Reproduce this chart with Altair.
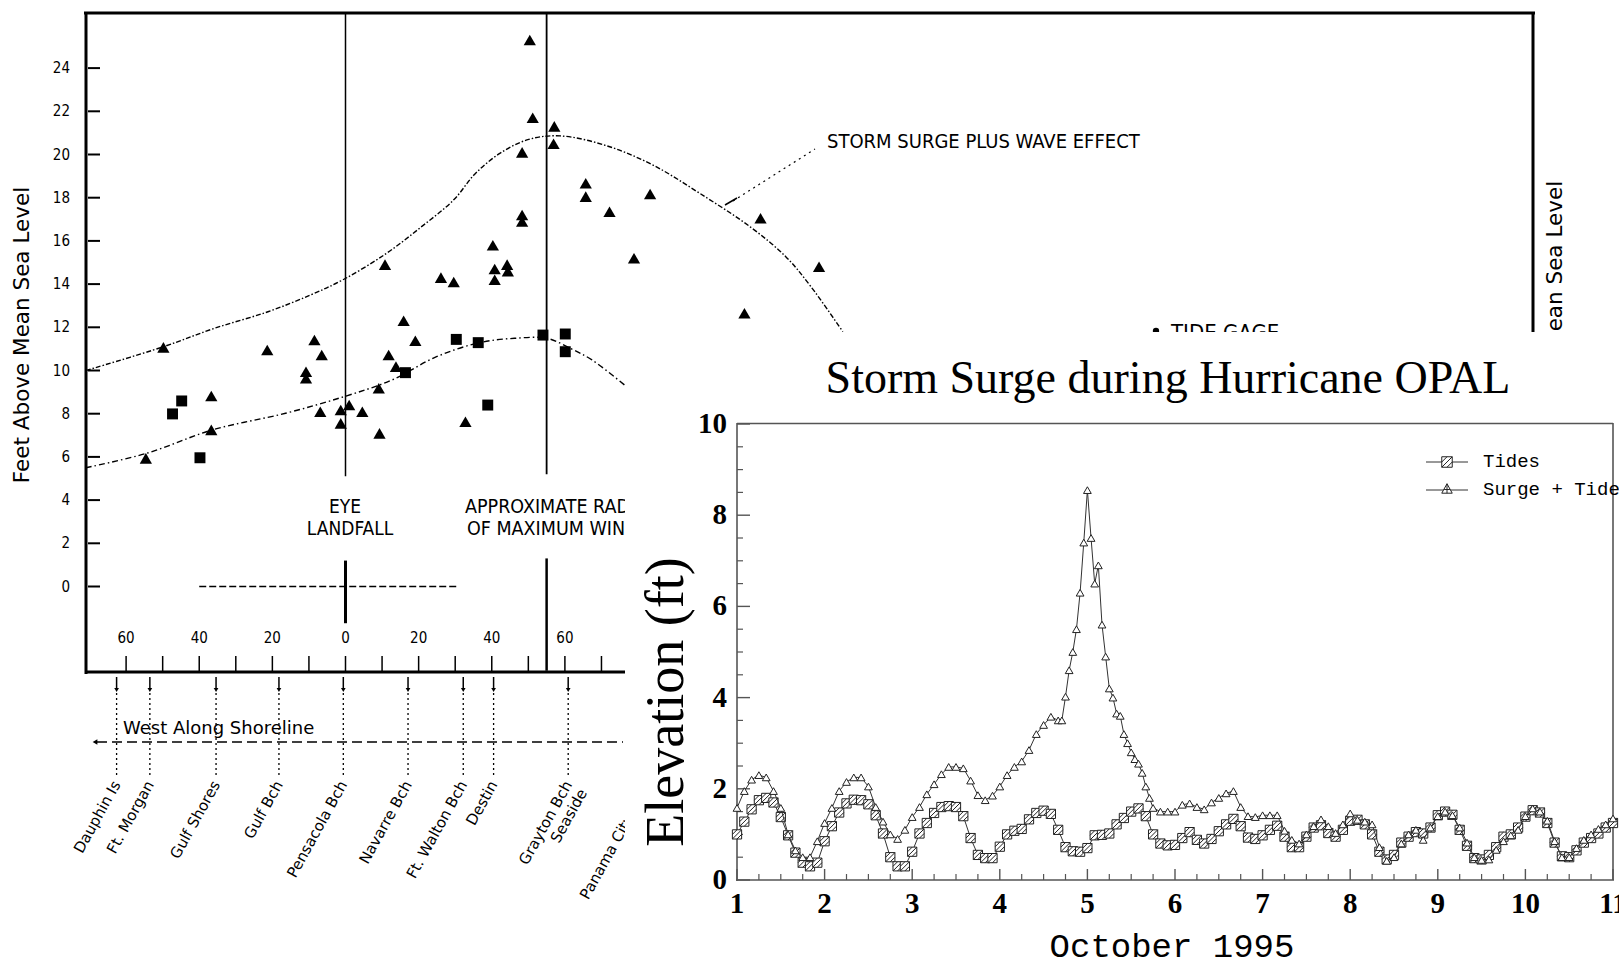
import altair as alt
import pandas as pd
import numpy as np

W, H = 1619, 968

# ---------------- left chart: surge along the shoreline (miles from landfall, feet) ----------------
tri_miles = [-54.6, -49.8, -36.7, -36.7, -21.4, -10.8, -10.8, -8.5, -6.5, -6.9,
             -1.3, -1.3, 1.0, 4.6, 9.1, 9.3, 10.8, 11.8, 13.8, 15.9, 19.1, 26.1,
             29.6, 32.8, 40.3, 40.8, 40.8, 44.2, 44.4, 48.3, 48.3, 48.3, 50.4,
             51.2, 56.9, 57.1, 65.7, 65.7, 72.2, 78.9, 83.3, 109.1, 113.5, 129.5]
tri_feet = [5.93, 11.07, 8.82, 7.25, 10.95, 9.94, 9.64, 11.41, 10.72, 8.09,
            8.17, 7.55, 8.4, 8.09, 9.18, 7.09, 14.9, 10.72, 10.18, 12.3, 11.38, 14.3,
            14.1, 7.63, 15.8, 14.7, 14.2, 14.9, 14.6, 20.1, 17.2, 16.9, 25.3,
            21.7, 20.5, 21.3, 18.67, 18.05, 17.35, 15.2, 18.17, 12.65, 17.05, 14.8]
sq_miles = [-47.3, -44.8, -39.8, 16.4, 30.3, 36.3, 38.9, 54.0, 60.1, 60.1]
sq_feet = [7.99, 8.59, 5.96, 9.9, 11.44, 11.29, 8.4, 11.64, 11.69, 10.87]
wave_miles = [-71.0, -49.8, -35.9, -21.2, -9.5, -0.7, 11.0, 20.8, 29.6, 35.4, 42.2,
              50.1, 58.8, 71.5, 84.2, 96.9, 110.6, 120.4, 127.2, 136.0]
wave_feet = [10.0, 11.1, 11.95, 12.72, 13.5, 14.2, 15.4, 16.66, 17.9, 19.1, 20.05,
             20.7, 20.86, 20.4, 19.5, 18.2, 16.66, 15.27, 13.9, 11.8]
surge_miles = [-71.0, -54.3, -36.4, -16.4, -0.4, 12.7, 24.9, 36.7, 46.2, 55.1, 61.8, 67.4, 76.3]
surge_feet = [5.5, 6.17, 7.25, 8.02, 8.79, 9.56, 10.64, 11.29, 11.49, 11.49, 11.0, 10.49, 9.33]
left_y_ticks = [0, 2, 4, 6, 8, 10, 12, 14, 16, 18, 20, 22, 24]
left_x_labels = [-60, -40, -20, 0, 20, 40, 60]
left_x_minor = [-60, -50, -40, -30, -20, -10, 0, 10, 20, 30, 40, 50, 60, 70]
loc_names = ["Dauphin Is", "Ft. Morgan", "Gulf Shores", "Gulf Bch", "Pensacola Bch",
             "Navarre Bch", "Ft. Walton Bch", "Destin", "Grayton Bch\nSeaside"]
loc_miles = [-62.6, -53.5, -35.4, -18.2, -0.6, 17.1, 32.2, 40.5, 60.9]
marker_lines_miles = [0, 0, 55, 55]
marker_lines_top = [26.5, 1.2, 26.5, 1.3]
marker_lines_bot = [5.1, -1.7, 5.2, -3.9]
marker_lines_w = [1.5, 3.0, 1.8, 2.5]

# ---------------- inset: Storm surge during Hurricane OPAL (October 1995) ----------------
tides = [1.0, 1.28, 1.55, 1.75, 1.8, 1.7, 1.38, 0.98, 0.6, 0.38, 0.3, 0.38,
         0.85, 1.18, 1.48, 1.68, 1.76, 1.75, 1.66, 1.42, 1.02, 0.5, 0.3, 0.3,
         0.62, 1.02, 1.25, 1.47, 1.6, 1.62, 1.6, 1.4, 0.92, 0.55, 0.48, 0.48,
         0.73, 1.0, 1.08, 1.12, 1.33, 1.47, 1.52, 1.45, 1.1, 0.72, 0.63, 0.62,
         0.7, 0.98, 0.99, 1.02, 1.22, 1.36, 1.5, 1.57, 1.4, 1.0, 0.8, 0.76,
         0.77, 0.92, 1.05, 0.88, 0.8, 0.9, 1.07, 1.22, 1.34, 1.18, 0.93, 0.9,
         0.98, 1.1, 1.19, 0.95, 0.72, 0.72, 0.95, 1.15, 1.2, 1.03, 0.95, 1.1,
         1.3, 1.32, 1.22, 1.0, 0.62, 0.45, 0.55, 0.82, 0.95, 1.05, 1.02, 1.15,
         1.42, 1.5, 1.43, 1.1, 0.75, 0.48, 0.45, 0.55, 0.72, 0.95, 1.0, 1.15,
         1.39, 1.53, 1.48, 1.25, 0.82, 0.52, 0.5, 0.65, 0.82, 0.92, 1.02, 1.15, 1.25]
surge_before = [1.58, 1.95, 2.2, 2.3, 2.25, 1.95, 1.58, 1.0, 0.65, 0.5, 0.5, 0.85,
                1.25, 1.58, 1.95, 2.15, 2.25, 2.25, 2.05, 1.6, 1.28, 1.0, 0.9, 1.1,
                1.38, 1.6, 1.88, 2.1, 2.32, 2.48, 2.48, 2.45, 2.18, 1.86, 1.75, 1.85,
                2.05, 2.3, 2.48, 2.6, 2.85, 3.2, 3.4, 3.58, 3.5]
surge_peak = [3.5, 4.02, 4.6, 5.0, 5.5, 6.3, 7.4, 8.55, 7.5, 6.5, 6.9, 5.6, 4.9,
              4.2, 4.0, 3.65, 3.6, 3.2, 3.0, 2.8, 2.65, 2.55, 2.35, 2.05, 1.8, 1.58]
surge_after = [1.5, 1.5, 1.5, 1.65, 1.68, 1.6, 1.55, 1.7, 1.8, 1.9, 1.95, 1.6, 1.4,
               1.38, 1.42, 1.42, 1.42, 1.08, 0.88, 0.8, 1.0, 1.18, 1.33, 1.18, 1.03,
               1.22, 1.46, 1.32, 1.28, 1.22, 0.72, 0.42, 0.5, 0.8, 1.0, 1.1, 0.88,
               1.15, 1.4, 1.5, 1.42, 1.15, 0.82, 0.5, 0.44, 0.45, 0.66, 0.85, 0.98,
               1.1, 1.4, 1.57, 1.5, 1.3, 0.85, 0.5, 0.5, 0.7, 0.88, 1.0, 1.12, 1.22, 1.35]
inset_x_ticks = [1, 2, 3, 4, 5, 6, 7, 8, 9, 10, 11]
inset_y_ticks = [0, 2, 4, 6, 8, 10]

# sampling times (days of October): 2-hourly, hourly around the peak
tide_days = [1 + k / 12 for k in range(len(tides))]
surge_days = ([1 + k / 12 for k in range(len(surge_before))]
              + [1 + 89 / 24 + k / 24 for k in range(len(surge_peak))]
              + [1 + 58 / 12 + k / 12 for k in range(len(surge_after))])
surge_vals = surge_before + surge_peak + surge_after

# ---------------- scales ----------------
LX = alt.Scale(domain=[-60, 60], range=[126.1, 564.9], nice=False, zero=False)
LY = alt.Scale(domain=[0, 24], range=[586.5, 68.1], nice=False, zero=False)
IX = alt.Scale(domain=[1, 11], range=[737, 1613], nice=False, zero=False)
IY = alt.Scale(domain=[0, 10], range=[880, 424], nice=False, zero=False)


def lx(f):
    return alt.X(f, scale=LX, axis=None)


def ly(f):
    return alt.Y(f, scale=LY, axis=None)


def ix(f):
    return alt.X(f, scale=IX, axis=None)


def iy(f):
    return alt.Y(f, scale=IY, axis=None)


def one():
    return alt.Chart(pd.DataFrame({"k": [0]}))


def hline(x1, x2, y, color="black", w=1.0, dash=None):
    kw = dict(color=color, strokeWidth=w)
    if dash:
        kw["strokeDash"] = dash
    return one().mark_rule(**kw).encode(x=alt.value(x1), x2=alt.value(x2), y=alt.value(y))


def vline(x, y1, y2, color="black", w=1.0):
    return one().mark_rule(color=color, strokeWidth=w).encode(x=alt.value(x), y=alt.value(y1), y2=alt.value(y2))


def label(txt, x, y, size, font="DejaVu Sans", align="center", baseline="middle", angle=0,
          weight="normal", color="black"):
    kw = dict(text=txt, fontSize=size, font=font, align=align, baseline=baseline,
              fontWeight=weight, color=color)
    if angle:
        kw["angle"] = angle
    return one().mark_text(**kw).encode(x=alt.value(x), y=alt.value(y))


SANS_C = "DejaVu Sans Condensed"
layers = []

# frame of the left chart
layers += [hline(84, 1535, 13, w=3), vline(86, 12, 674, w=3), hline(85, 625, 672, w=3),
           vline(1533, 12, 334, w=3)]

# y ticks + labels
dyt = pd.DataFrame({"ft": left_y_ticks, "lab": [str(v) for v in left_y_ticks]})
layers.append(alt.Chart(dyt).mark_rule(color="black", strokeWidth=2).encode(
    x=alt.value(88), x2=alt.value(100), y=ly("ft:Q")))
layers.append(alt.Chart(dyt).mark_text(align="right", baseline="middle", font=SANS_C, fontSize=15).encode(
    x=alt.value(70), y=ly("ft:Q"), text="lab:N"))

# x ticks + labels
dxm = pd.DataFrame({"m": left_x_minor})
layers.append(alt.Chart(dxm).mark_rule(color="black", strokeWidth=1.5).encode(
    x=lx("m:Q"), y=alt.value(656), y2=alt.value(671)))
dxl = pd.DataFrame({"m": left_x_labels, "lab": [str(abs(v)) for v in left_x_labels]})
layers.append(alt.Chart(dxl).mark_text(baseline="middle", font=SANS_C, fontSize=15).encode(
    x=lx("m:Q"), y=alt.value(638), text="lab:N"))

# zero line
dz = pd.DataFrame({"a": [-40], "b": [31], "ft": [0]})
layers.append(alt.Chart(dz).mark_rule(color="black", strokeWidth=1.3, strokeDash=[7, 3]).encode(
    x=lx("a:Q"), x2=alt.X2("b:Q"), y=ly("ft:Q")))

# eye landfall / radius of maximum winds lines
dseg = pd.DataFrame({"m": marker_lines_miles, "top": marker_lines_top,
                     "bot": marker_lines_bot, "w": marker_lines_w})
layers.append(alt.Chart(dseg).mark_rule(color="black").encode(
    x=lx("m:Q"), y=ly("top:Q"), y2=alt.Y2("bot:Q"),
    strokeWidth=alt.StrokeWidth("w:Q", scale=None, legend=None)))

# envelope curves
dwave = pd.DataFrame({"m": wave_miles, "ft": wave_feet})
layers.append(alt.Chart(dwave).mark_line(color="black", strokeWidth=1.4, strokeDash=[5, 2, 1.5, 2],
                                         interpolate="catmull-rom").encode(x=lx("m:Q"), y=ly("ft:Q")))
dsurge = pd.DataFrame({"m": surge_miles, "ft": surge_feet})
layers.append(alt.Chart(dsurge).mark_line(color="black", strokeWidth=1.4, strokeDash=[6, 3, 1.5, 3],
                                          interpolate="catmull-rom").encode(x=lx("m:Q"), y=ly("ft:Q")))

# observations
dtri = pd.DataFrame({"m": tri_miles, "ft": tri_feet})
layers.append(alt.Chart(dtri).mark_point(shape="triangle-up", filled=True, color="black", size=150,
                                         opacity=1).encode(x=lx("m:Q"), y=ly("ft:Q")))
dsq = pd.DataFrame({"m": sq_miles, "ft": sq_feet})
layers.append(alt.Chart(dsq).mark_point(shape="square", filled=True, color="black", size=120,
                                        opacity=1).encode(x=lx("m:Q"), y=ly("ft:Q")))

# annotations
layers += [
    label("STORM SURGE PLUS WAVE EFFECT", 827, 142, 20, font=SANS_C, align="left"),
    one().mark_rule(color="black", strokeWidth=1.2, strokeDash=[2, 4]).encode(
        x=alt.value(733), y=alt.value(201), x2=alt.value(815), y2=alt.value(149)),
    one().mark_rule(color="black", strokeWidth=1.5).encode(
        x=alt.value(725), y=alt.value(205), x2=alt.value(737), y2=alt.value(198)),
    label("EYE", 345, 507, 19, font=SANS_C),
    label("LANDFALL", 350, 529, 19, font=SANS_C),
    label("APPROXIMATE RADIUS", 465, 507, 19.5, font=SANS_C, align="left"),
    label("OF MAXIMUM WINDS", 467, 529, 19.5, font=SANS_C, align="left"),
    one().mark_point(shape="circle", filled=True, color="black", size=40, opacity=1).encode(
        x=alt.value(1156), y=alt.value(331)),
    label("TIDE GAGE", 1171, 340, 22, font=SANS_C, align="left", baseline="alphabetic"),
    label("Feet Above Mean Sea Level", 23, 335, 21.5, angle=270),
    label("Feet Above Mean Sea Level", 1556, 329, 21.5, angle=270),
]

# locations along the shoreline
dloc = pd.DataFrame({"m": loc_miles, "name": loc_names})
layers.append(alt.Chart(dloc).mark_rule(color="black", strokeWidth=1.5).encode(
    x=lx("m:Q"), y=alt.value(677), y2=alt.value(689)))
layers.append(alt.Chart(dloc).mark_point(shape="triangle-down", filled=True, color="black", size=22,
                                         opacity=1).encode(x=lx("m:Q"), y=alt.value(690)))
layers.append(alt.Chart(dloc).mark_rule(color="black", strokeWidth=1.3, strokeDash=[2, 3]).encode(
    x=lx("m:Q"), y=alt.value(693), y2=alt.value(776)))
layers.append(alt.Chart(dloc).mark_text(angle=299, align="right", baseline="middle", font="DejaVu Sans",
                                        fontSize=15, lineBreak="\n").encode(
    x=lx("m:Q"), y=alt.value(782), text="name:N"))
layers.append(label("Panama City", 584, 898, 15, align="left", angle=299))
layers += [
    label("West Along Shoreline", 123, 729, 18, align="left"),
    hline(97, 623, 742, w=1.5, dash=[10, 5]),
    one().mark_point(shape="triangle-left", filled=True, color="black", size=30, opacity=1).encode(
        x=alt.value(95), y=alt.value(742)),
]

# white sheet of the inset figure
layers.append(one().mark_rect(color="white").encode(
    x=alt.value(625), x2=alt.value(W), y=alt.value(332), y2=alt.value(H)))

# ---------------- inset layers ----------------
SERIF = "Liberation Serif"
MONO = "Liberation Mono"
FR = "#555555"
layers += [hline(737, 1613, 423.5, color=FR, w=1.6), vline(1613, 423, 880, color=FR, w=1.6),
           vline(737, 423, 881, color=FR, w=1.6), hline(736, 1614, 880, color=FR, w=1.6)]

dmaj = pd.DataFrame({"d": inset_x_ticks, "lab": [str(v) for v in inset_x_ticks]})
dmin = pd.DataFrame({"d": [1 + q / 4 for q in range(41) if q % 4]})
layers.append(alt.Chart(dmaj).mark_rule(color=FR, strokeWidth=1.4).encode(
    x=ix("d:Q"), y=alt.value(869), y2=alt.value(880)))
layers.append(alt.Chart(dmin).mark_rule(color=FR, strokeWidth=1.2).encode(
    x=ix("d:Q"), y=alt.value(874), y2=alt.value(880)))
layers.append(alt.Chart(dmaj).mark_text(baseline="middle", font=SERIF, fontWeight="bold", fontSize=29).encode(
    x=ix("d:Q"), y=alt.value(904), text="lab:N"))

dymaj = pd.DataFrame({"v": inset_y_ticks, "lab": [str(v) for v in inset_y_ticks]})
dymin = pd.DataFrame({"v": [q / 2 for q in range(1, 20) if q % 4]})
layers.append(alt.Chart(dymaj).mark_rule(color=FR, strokeWidth=1.4).encode(
    x=alt.value(737), x2=alt.value(750), y=iy("v:Q")))
layers.append(alt.Chart(dymin).mark_rule(color=FR, strokeWidth=1.2).encode(
    x=alt.value(737), x2=alt.value(743), y=iy("v:Q")))
layers.append(alt.Chart(dymaj).mark_text(align="right", baseline="middle", font=SERIF, fontWeight="bold",
                                         fontSize=29).encode(x=alt.value(727), y=iy("v:Q"), text="lab:N"))

HATCH = "M-1,-1H1V1H-1Z M-1,0L0,-1 M-1,1L1,-1 M0,1L1,0"
TRI_X = "M0,-1L1,0.8H-1Z M0,-1V0.8 M-0.55,0.1H0.55"

dt = pd.DataFrame({"d": tide_days, "v": tides})
ds = pd.DataFrame({"d": surge_days, "v": surge_vals})
layers.append(alt.Chart(dt).mark_line(color="#333333", strokeWidth=1).encode(x=ix("d:Q"), y=iy("v:Q")))
layers.append(alt.Chart(dt).mark_point(shape=HATCH, filled=True, fill="white", stroke="#222222",
                                       strokeWidth=1, size=85, opacity=1).encode(x=ix("d:Q"), y=iy("v:Q")))
layers.append(alt.Chart(ds).mark_line(color="#333333", strokeWidth=1).encode(x=ix("d:Q"), y=iy("v:Q")))
layers.append(alt.Chart(ds).mark_point(shape="triangle-up", filled=True, fill="white", stroke="#222222",
                                       strokeWidth=1, size=60, opacity=1).encode(x=ix("d:Q"), y=iy("v:Q")))

# legend
layers += [
    hline(1426, 1468, 462, color="#333333", w=1),
    hline(1426, 1468, 490, color="#333333", w=1),
    one().mark_point(shape=HATCH, filled=True, fill="white", stroke="#222222", strokeWidth=1,
                     size=110, opacity=1).encode(x=alt.value(1447), y=alt.value(462)),
    one().mark_point(shape=TRI_X, filled=True, fill="white", stroke="#222222", strokeWidth=1,
                     size=110, opacity=1).encode(x=alt.value(1447), y=alt.value(489)),
    label("Tides", 1483, 461, 19, font=MONO, align="left"),
    label("Surge + Tide", 1483, 489, 19, font=MONO, align="left"),
]

# inset titles
layers += [
    label("Storm Surge during Hurricane OPAL", 1168, 393, 46, font=SERIF, baseline="alphabetic"),
    label("Elevation (ft)", 667, 702, 54, font=SERIF, angle=270),
    label("October 1995", 1172, 947, 34, font=MONO),
]

chart = alt.layer(*layers).resolve_scale(x="independent", y="independent").properties(
    width=W, height=H, padding=0, background="white",
    autosize=alt.AutoSizeParams(type="none"),
).configure_view(stroke=None)

chart.save("out.html", embed_options={"renderer": "svg", "actions": False})
